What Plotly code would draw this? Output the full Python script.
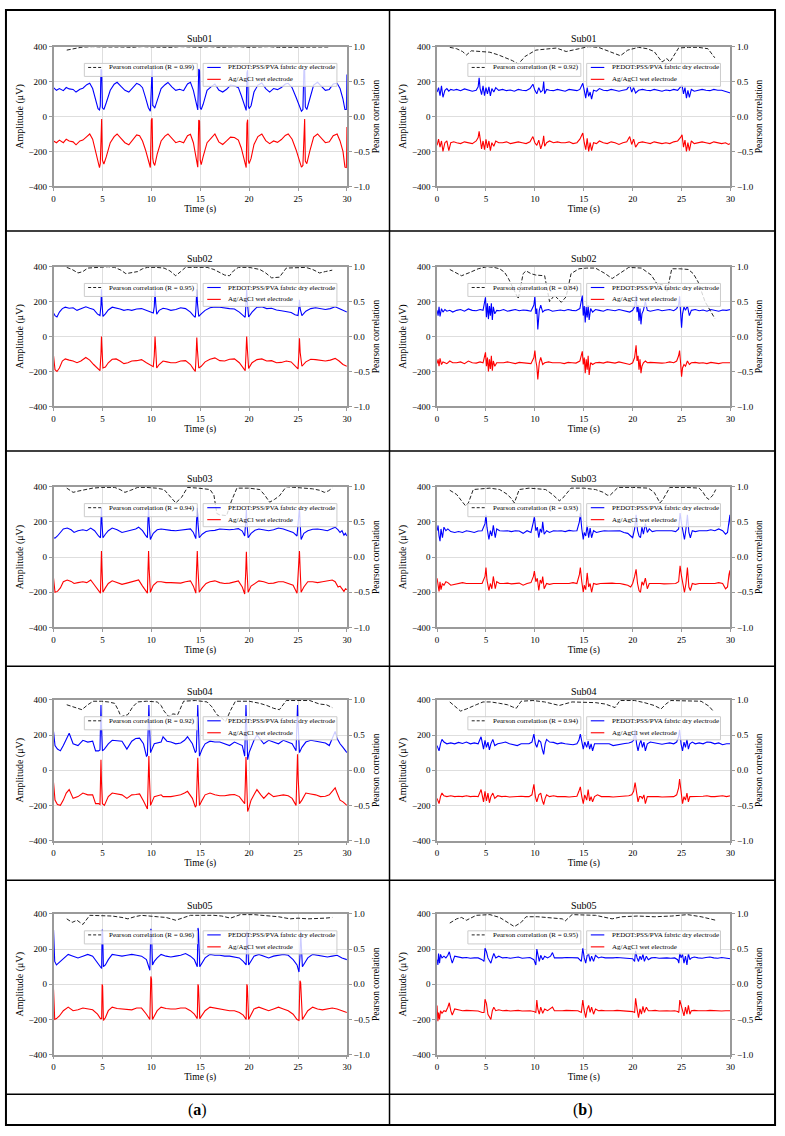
import plotly.graph_objects as go

# ---------------- DATA ----------------
TIME_TICKS = [0, 5, 10, 15, 20, 25, 30]
AMP_TICKS = [-400, -200, 0, 200, 400]
CORR_TICKS = [-1.0, -0.5, 0.0, 0.5, 1.0]
SUBJECTS = ["Sub01", "Sub02", "Sub03", "Sub04", "Sub05"]
R_A = ["0.99", "0.95", "0.94", "0.92", "0.96"]
R_B = ["0.92", "0.84", "0.93", "0.94", "0.95"]
PANEL_LABELS = ["a", "b"]

# ---- Sub01 (a)
T_S01A = [0.0, 0.3, 0.6, 1.0, 1.3, 1.6, 2.0, 2.3, 2.7, 3.0,
          3.4, 3.7, 4.0, 4.3, 4.55, 4.7, 4.78, 4.85, 4.92, 5.0,
          5.15, 5.4, 5.8, 6.2, 6.5, 6.9, 7.3, 7.7, 8.1, 8.5,
          8.8, 9.1, 9.4, 9.7, 9.9, 10.0, 10.08, 10.15, 10.22, 10.35,
          10.6, 11.0, 11.4, 11.7, 12.1, 12.5, 12.9, 13.3, 13.7, 14.0,
          14.3, 14.6, 14.75, 14.85, 14.93, 15.0, 15.1, 15.3, 15.7, 16.1,
          16.5, 16.9, 17.3, 17.7, 18.1, 18.5, 18.9, 19.2, 19.5, 19.7,
          19.78, 19.85, 19.92, 20.0, 20.2, 20.5, 20.9, 21.3, 21.7, 22.1,
          22.5, 22.9, 23.3, 23.7, 24.0, 24.4, 24.8, 25.1, 25.35, 25.5,
          25.6, 25.68, 25.75, 25.9, 26.2, 26.6, 27.0, 27.4, 27.8, 28.2,
          28.6, 29.0, 29.3, 29.6, 29.8, 29.95, 30.0]
BLUE_S01A = [165, 150, 160, 148, 166, 158, 155, 140, 156, 162,
             182, 190, 160, 100, 45, 38, 60, 270, 265, 50,
             40, 80, 150, 185, 196, 172, 150, 140, 165, 190,
             182, 165, 110, 50, 30, 262, 270, 62, 60, 48,
             90, 160, 182, 195, 170, 150, 156, 148, 186, 196,
             150, 60, 38, 272, 262, 50, 40, 70, 150, 170,
             186, 152, 140, 156, 180, 176, 165, 120, 60, 35,
             250, 265, 60, 45, 62, 140, 180, 192, 160, 140,
             160, 154, 166, 186, 190, 165, 110, 60, 30, 40,
             265, 270, 55, 40, 100, 180, 196, 175, 150, 155,
             186, 190, 160, 100, 40, 40, 240]
RED_S01A = [-140, -150, -135, -150, -130, -140, -145, -162, -140, -135,
            -115, -100, -130, -200, -270, -292, -270, -25, -15, -250,
            -272, -230, -150, -115, -100, -125, -150, -162, -135, -105,
            -110, -140, -190, -255, -292, -20, -10, -240, -265, -280,
            -215, -140, -112, -100, -128, -150, -142, -150, -110, -102,
            -150, -240, -290, -20, -25, -250, -275, -230, -150, -125,
            -100, -145, -160, -140, -118, -120, -135, -180, -245, -292,
            -40, -18, -250, -270, -240, -160, -115, -100, -138, -155,
            -140, -148, -132, -108, -100, -130, -190, -240, -290, -280,
            -30, -15, -255, -270, -200, -118, -100, -125, -150, -145,
            -110, -100, -140, -200, -290, -292, -60]
CT_S01A = [1.35, 1.8, 2.3, 2.8, 3.3, 4, 5, 6, 7, 8, 9, 10, 11, 12, 13, 14,
           15, 16, 17, 18, 19, 20, 21, 22, 23, 24, 25, 26, 27, 28.2]
CR_S01A = [0.95, 0.965, 0.98, 0.99, 0.995, 1.0, 0.995, 1.0, 0.995, 0.99,
           1.0, 0.995, 0.99, 0.99, 1.0, 0.995, 0.99, 1.0, 0.99, 0.995,
           1.0, 0.99, 0.995, 1.0, 0.99, 0.99, 1.0, 0.995, 0.99, 0.995]

# ---- Sub01 (b)
T_S01B = [0.0, 0.15, 0.3, 0.45, 0.6, 0.8, 1.0, 1.2, 1.4, 1.7,
          2.0, 2.4, 2.8, 3.2, 3.6, 4.0, 4.2, 4.3, 4.4, 4.55,
          4.7, 4.85, 5.0, 5.15, 5.3, 5.45, 5.6, 5.8, 6.0, 6.3,
          6.7, 7.1, 7.5, 7.9, 8.3, 8.7, 9.1, 9.5, 9.8, 10.0,
          10.2, 10.4, 10.6, 10.8, 10.9, 11.0, 11.2, 11.5, 11.9, 12.3,
          12.7, 13.1, 13.5, 13.9, 14.3, 14.6, 14.8, 14.9, 15.05, 15.2,
          15.35, 15.5, 15.65, 15.8, 16.0, 16.3, 16.6, 17.0, 17.4, 17.8,
          18.2, 18.6, 19.0, 19.4, 19.7, 19.9, 20.1, 20.3, 20.6, 21.0,
          21.4, 21.8, 22.2, 22.6, 23.0, 23.4, 23.8, 24.2, 24.6, 24.9,
          25.05, 25.2, 25.35, 25.5, 25.65, 25.8, 26.0, 26.3, 26.7, 27.1,
          27.5, 27.9, 28.3, 28.7, 29.1, 29.5, 29.8, 30.0]
BLUE_S01B = [140, 165, 120, 175, 110, 150, 160, 145, 155, 150,
             155, 148, 158, 150, 145, 150, 170, 222, 160, 125,
             175, 120, 165, 130, 170, 118, 160, 140, 165, 150,
             155, 148, 152, 145, 155, 150, 148, 160, 185, 150,
             130, 165, 140, 150, 200, 130, 155, 150, 148, 155,
             150, 145, 155, 150, 148, 155, 175, 190, 150, 105,
             165, 115, 140, 100, 150, 145, 160, 150, 148, 155,
             150, 145, 150, 155, 178, 140, 165, 135, 150, 155,
             150, 148, 155, 150, 145, 152, 148, 155, 150, 170,
             180, 130, 165, 105, 150, 110, 155, 145, 150, 155,
             150, 148, 155, 150, 150, 145, 140, 135]
RED_S01B = [-165, -130, -175, -140, -200, -150, -140, -195, -150, -145,
            -150, -155, -145, -150, -155, -140, -120, -85, -130, -185,
            -140, -190, -130, -180, -140, -195, -150, -170, -140, -150,
            -150, -145, -155, -150, -145, -150, -155, -145, -115, -150,
            -165, -135, -185, -150, -110, -170, -150, -140, -150, -145,
            -150, -150, -145, -155, -150, -130, -110, -95, -150, -190,
            -125, -200, -150, -195, -150, -155, -140, -150, -155, -145,
            -150, -160, -150, -145, -115, -160, -130, -175, -150, -145,
            -150, -155, -145, -150, -155, -150, -155, -145, -140, -120,
            -105, -175, -135, -200, -150, -195, -140, -155, -150, -145,
            -150, -155, -145, -150, -155, -150, -160, -155]
CT_S01B = [1.3, 2.0, 2.6, 3.0, 3.5, 4.5, 5.4, 6.3, 7.1, 7.7,
           8.3, 9.0, 10.1, 11.2, 12.2, 13.2, 14.3, 15.5, 16.5, 17.5,
           18.75, 19.5, 20.6, 21.5, 22.2, 23.0, 23.5, 23.8, 24.7, 25.7,
           26.7, 27.7, 28.4]
CR_S01B = [0.99, 0.97, 0.93, 0.88, 0.94, 0.93, 0.92, 0.88, 0.83, 0.80,
           0.75, 0.86, 0.95, 0.97, 0.98, 0.93, 0.96, 1.0, 0.99, 0.94,
           0.87, 0.95, 0.99, 0.97, 0.93, 0.78, 0.83, 0.78, 0.98, 0.99,
           0.99, 0.97, 0.84]

# ---- Sub02 (a)
T_S02A = [0.0, 0.15, 0.35, 0.6, 0.9, 1.2, 1.6, 2.0, 2.4, 2.8,
          3.3, 3.7, 4.1, 4.5, 4.75, 4.85, 4.9, 4.95, 5.05, 5.3,
          5.6, 6.0, 6.4, 6.8, 7.2, 7.6, 8.0, 8.5, 9.0, 9.5,
          9.9, 10.2, 10.3, 10.38, 10.45, 10.55, 10.8, 11.2, 11.6, 12.0,
          12.5, 13.0, 13.5, 14.0, 14.3, 14.5, 14.58, 14.65, 14.72, 14.85,
          15.1, 15.5, 16.0, 16.5, 17.0, 17.5, 18.0, 18.5, 19.0, 19.4,
          19.6, 19.68, 19.75, 19.82, 19.95, 20.3, 20.8, 21.3, 21.8, 22.3,
          22.8, 23.3, 23.8, 24.3, 24.7, 25.0, 25.08, 25.15, 25.22, 25.4,
          25.8, 26.3, 26.8, 27.3, 27.8, 28.3, 28.8, 29.2, 29.6, 30.0]
BLUE_S02A = [135, 120, 112, 140, 160, 168, 162, 165, 150, 158,
             170, 162, 155, 128, 120, 180, 270, 200, 115, 130,
             152, 168, 165, 158, 150, 155, 150, 158, 160, 148,
             140, 135, 170, 265, 190, 128, 150, 162, 158, 150,
             155, 165, 160, 140, 120, 110, 180, 270, 190, 115,
             130, 150, 165, 170, 168, 162, 160, 158, 140, 120,
             110, 190, 270, 200, 112, 140, 168, 170, 160, 162,
             152, 148, 142, 138, 125, 120, 160, 210, 160, 120,
             145, 160, 165, 160, 155, 160, 170, 160, 148, 140]
RED_S02A = [-110, -190, -200, -180, -140, -128, -135, -140, -150, -140,
            -120, -135, -160, -180, -195, -100, 0, -60, -180, -175,
            -150, -130, -128, -140, -155, -150, -140, -138, -132, -150,
            -165, -172, -110, 0, -70, -180, -160, -140, -145, -150,
            -150, -140, -138, -160, -185, -200, -110, -5, -80, -180,
            -170, -145, -130, -122, -138, -140, -130, -128, -150, -180,
            -195, -100, 0, -70, -182, -150, -132, -128, -140, -138,
            -150, -148, -140, -145, -165, -185, -110, -10, -90, -170,
            -145, -130, -132, -138, -140, -135, -125, -140, -160, -170]
CT_S02A = [1.35, 1.9, 2.5, 3.0, 3.5, 4.2, 4.9, 5.6, 6.25, 6.9,
           7.4, 8.0, 8.6, 9.1, 9.6, 10.5, 11.3, 11.9, 12.5, 13.0,
           13.5, 14.5, 15.7, 16.4, 17.0, 17.5, 18.0, 18.4, 18.9, 20.0,
           21.1, 21.7, 22.3, 23.1, 23.8, 24.8, 25.8, 26.5, 27.2, 27.8,
           28.5]
CR_S02A = [0.99, 0.96, 0.91, 0.93, 0.98, 0.99, 1.0, 1.0, 0.99, 0.95,
           0.90, 0.91, 0.93, 0.97, 0.99, 0.99, 0.98, 0.94, 0.87, 0.93,
           0.99, 0.99, 0.99, 0.96, 0.91, 0.88, 0.87, 0.94, 0.99, 0.99,
           0.96, 0.91, 0.84, 0.85, 0.98, 0.99, 0.99, 0.96, 0.91, 0.93,
           0.95]

# ---- Sub02 (b)
T_S02B = [0.0, 0.1, 0.2, 0.3, 0.45, 0.6, 0.8, 1.0, 1.3, 1.6,
          2.0, 2.4, 2.8, 3.2, 3.6, 4.0, 4.4, 4.7, 4.95, 5.05,
          5.15, 5.25, 5.35, 5.45, 5.55, 5.65, 5.75, 5.9, 6.1, 6.4,
          6.8, 7.2, 7.6, 8.0, 8.4, 8.8, 9.2, 9.6, 9.9, 10.0,
          10.1, 10.2, 10.3, 10.45, 10.6, 10.8, 11.0, 11.4, 11.8, 12.2,
          12.6, 13.0, 13.4, 13.8, 14.2, 14.6, 14.85, 14.95, 15.05, 15.15,
          15.25, 15.35, 15.45, 15.55, 15.7, 15.9, 16.2, 16.6, 17.0, 17.4,
          17.8, 18.2, 18.6, 19.0, 19.4, 19.7, 20.0, 20.2, 20.35, 20.45,
          20.55, 20.65, 20.75, 20.85, 20.95, 21.1, 21.3, 21.5, 21.8, 22.2,
          22.6, 23.0, 23.4, 23.8, 24.2, 24.5, 24.7, 24.8, 24.9, 25.0,
          25.1, 25.25, 25.4, 25.6, 25.8, 26.0, 26.4, 26.8, 27.2, 27.6,
          28.0, 28.4, 28.8, 29.2, 29.6, 30.0]
BLUE_S02B = [150, 120, 170, 115, 160, 140, 155, 145, 150, 140,
             150, 155, 145, 158, 150, 148, 155, 150, 225, 110,
             190, 100, 175, 120, 190, 95, 170, 130, 150, 148,
             155, 145, 150, 155, 148, 152, 150, 145, 180, 230,
             130, 160, 40, 150, 180, 140, 150, 155, 145, 150,
             152, 148, 155, 150, 148, 160, 235, 120, 175, 80,
             170, 110, 180, 95, 160, 140, 155, 150, 145, 155,
             150, 148, 155, 150, 145, 140, 150, 170, 235, 140,
             180, 90, 160, 70, 130, 150, 200, 150, 145, 150,
             155, 148, 150, 155, 148, 160, 180, 230, 140, 50,
             130, 170, 150, 175, 120, 150, 155, 148, 152, 145,
             155, 150, 145, 152, 150, 155]
RED_S02B = [-155, -130, -170, -125, -160, -145, -150, -155, -140, -150,
            -150, -145, -155, -140, -150, -152, -145, -150, -90, -170,
            -120, -200, -130, -185, -110, -195, -140, -170, -150, -150,
            -150, -145, -150, -155, -148, -150, -150, -155, -120, -80,
            -140, -170, -245, -150, -120, -160, -150, -145, -150, -148,
            -150, -155, -148, -150, -152, -140, -85, -160, -120, -210,
            -130, -190, -110, -220, -150, -160, -150, -148, -152, -145,
            -150, -152, -145, -150, -155, -160, -150, -120, -50, -140,
            -110, -190, -130, -210, -170, -150, -140, -150, -148, -150,
            -148, -152, -150, -145, -150, -140, -110, -80, -150, -230,
            -180, -160, -170, -140, -160, -150, -148, -152, -150, -155,
            -148, -150, -155, -150, -148, -150]
CT_S02B = [1.3, 1.9, 2.5, 3.4, 4.2, 5.1, 5.8, 6.4, 6.9, 7.3,
           7.8, 8.3, 8.8, 9.1, 9.6, 10.1, 11.0, 11.5, 12.0, 12.7,
           13.2, 13.7, 14.5, 15.3, 16.2, 17.2, 17.9, 18.6, 19.6, 20.9,
           21.9, 22.6, 23.0, 23.5, 24.0, 24.8, 25.7, 26.2, 26.7, 27.4,
           27.9, 28.4]
CR_S02B = [0.96, 0.92, 0.87, 0.92, 0.97, 1.0, 0.99, 0.97, 0.92, 0.83,
           0.68, 0.54, 0.9, 0.94, 0.9, 0.88, 0.87, 0.5, 0.59, 0.49,
           0.57, 0.9, 0.97, 0.98, 0.98, 0.9, 0.83, 0.9, 0.99, 0.98,
           0.88, 0.73, 0.75, 0.64, 0.97, 0.97, 0.96, 0.9, 0.78, 0.5,
           0.38, 0.26]

# ---- Sub03 (a)
T_S03A = [0.0, 0.15, 0.4, 0.7, 1.0, 1.4, 1.8, 2.1, 2.5, 3.0,
          3.4, 3.8, 4.2, 4.6, 4.8, 4.85, 4.9, 4.95, 5.05, 5.3,
          5.6, 6.0, 6.5, 7.0, 7.5, 8.0, 8.4, 8.7, 9.1, 9.4,
          9.6, 9.65, 9.72, 9.78, 9.9, 10.2, 10.6, 11.0, 11.5, 12.0,
          12.5, 13.0, 13.5, 14.0, 14.3, 14.55, 14.62, 14.7, 14.77, 14.9,
          15.2, 15.6, 16.0, 16.5, 17.0, 17.5, 18.0, 18.5, 18.9, 19.3,
          19.55, 19.65, 19.72, 19.78, 19.9, 20.2, 20.6, 21.0, 21.5, 22.0,
          22.5, 23.0, 23.5, 24.0, 24.5, 24.9, 25.05, 25.15, 25.22, 25.32,
          25.6, 26.0, 26.5, 27.0, 27.5, 28.0, 28.5, 28.8, 29.1, 29.3,
          29.5, 29.7, 29.85, 30.0]
BLUE_S03A = [110, 108, 120, 140, 160, 165, 155, 140, 150, 155,
             150, 165, 150, 120, 110, 200, 280, 200, 110, 130,
             150, 165, 155, 140, 148, 152, 160, 170, 150, 125,
             110, 200, 280, 190, 100, 135, 155, 160, 155, 152,
             150, 152, 155, 160, 140, 105, 200, 280, 190, 110,
             130, 145, 150, 152, 160, 158, 155, 158, 162, 148,
             120, 200, 270, 190, 110, 135, 152, 160, 155, 150,
             155, 165, 160, 150, 140, 120, 200, 280, 190, 100,
             135, 150, 158, 160, 155, 150, 162, 170, 155, 140,
             150, 125, 135, 120]
RED_S03A = [-120, -200, -195, -175, -140, -130, -138, -150, -145, -140,
            -145, -130, -160, -190, -205, -80, 35, -60, -200, -175,
            -150, -135, -145, -155, -148, -140, -135, -130, -165, -190,
            -205, -90, 35, -70, -200, -160, -140, -140, -145, -145,
            -145, -148, -140, -135, -165, -205, -80, 35, -70, -200,
            -175, -150, -140, -135, -145, -150, -148, -140, -135, -170,
            -210, -90, 30, -70, -200, -165, -148, -135, -140, -150,
            -148, -140, -140, -150, -160, -205, -80, 35, -70, -200,
            -170, -140, -140, -145, -140, -135, -130, -140, -170, -165,
            -180, -195, -180, -185]
CT_S03A = [1.35, 2.0, 2.6, 3.2, 4.0, 4.9, 5.6, 6.25, 6.8, 7.3,
           7.9, 8.6, 9.5, 10.5, 11.3, 11.9, 12.5, 13.1, 13.7, 14.8,
           16.0, 16.4, 16.7, 17.0, 17.7, 18.2, 18.75, 20.0, 21.1, 21.6,
           22.1, 22.6, 23.1, 23.8, 25.0, 26.5, 27.2, 27.7, 28.1, 28.5]
CR_S03A = [0.98, 0.92, 0.94, 0.96, 0.98, 0.99, 0.99, 0.99, 0.96, 0.92,
           0.95, 0.99, 0.99, 0.98, 0.96, 0.87, 0.77, 0.85, 0.99, 0.98,
           0.96, 0.88, 0.62, 0.6, 0.59, 0.8, 0.98, 0.98, 0.96, 0.88,
           0.78, 0.82, 0.87, 1.0, 0.99, 0.97, 0.95, 0.92, 0.94, 0.98]

# ---- Sub03 (b)
T_S03B = [0.0, 0.1, 0.2, 0.3, 0.4, 0.55, 0.7, 0.9, 1.1, 1.4,
          1.8, 2.2, 2.6, 3.0, 3.4, 3.8, 4.2, 4.6, 4.9, 5.0,
          5.1, 5.2, 5.3, 5.45, 5.6, 5.75, 5.85, 5.95, 6.1, 6.4,
          6.8, 7.2, 7.6, 8.0, 8.4, 8.8, 9.2, 9.6, 9.85, 9.95,
          10.1, 10.25, 10.4, 10.55, 10.7, 10.8, 10.95, 11.2, 11.5, 11.9,
          12.3, 12.7, 13.1, 13.5, 13.9, 14.3, 14.55, 14.65, 14.8, 14.95,
          15.05, 15.2, 15.35, 15.5, 15.65, 15.8, 16.0, 16.3, 16.7, 17.1,
          17.5, 17.9, 18.3, 18.7, 19.1, 19.5, 19.8, 20.0, 20.2, 20.35,
          20.5, 20.65, 20.8, 20.95, 21.1, 21.3, 21.5, 21.7, 22.0, 22.4,
          22.8, 23.2, 23.6, 24.0, 24.4, 24.7, 24.85, 25.0, 25.15, 25.3,
          25.45, 25.6, 25.75, 25.9, 26.1, 26.4, 26.8, 27.2, 27.6, 28.0,
          28.4, 28.8, 29.2, 29.5, 29.7, 29.85, 29.95, 30.0]
BLUE_S03B = [150, 180, 120, 90, 160, 110, 170, 150, 160, 145,
             140, 145, 140, 150, 145, 140, 148, 150, 190, 240,
             170, 140, 100, 150, 120, 180, 130, 110, 160, 150,
             148, 150, 145, 150, 148, 135, 150, 140, 200, 230,
             150, 170, 110, 160, 140, 200, 130, 150, 140, 150,
             148, 150, 145, 152, 148, 150, 200, 250, 160, 100,
             140, 120, 180, 110, 165, 110, 150, 140, 145, 150,
             148, 150, 148, 150, 140, 135, 120, 110, 160, 240,
             150, 120, 110, 170, 130, 190, 140, 160, 145, 150,
             150, 148, 150, 150, 145, 160, 250, 190, 140, 100,
             160, 240, 140, 110, 150, 145, 150, 148, 150, 155,
             150, 160, 150, 130, 140, 200, 240, 180]
RED_S03B = [-120, -150, -195, -140, -185, -150, -160, -140, -145, -160,
            -155, -150, -145, -150, -148, -150, -150, -150, -110, -60,
            -130, -160, -190, -150, -180, -110, -160, -180, -140, -150,
            -150, -148, -152, -150, -148, -160, -150, -145, -110, -80,
            -140, -120, -190, -130, -150, -110, -180, -150, -155, -150,
            -150, -148, -152, -150, -145, -150, -100, -60, -140, -200,
            -160, -185, -90, -170, -150, -200, -150, -155, -150, -148,
            -150, -148, -150, -150, -155, -160, -170, -150, -110, -70,
            -150, -190, -200, -140, -160, -120, -180, -150, -150, -148,
            -150, -152, -150, -148, -150, -140, -50, -110, -160, -200,
            -150, -60, -170, -190, -150, -155, -150, -150, -152, -148,
            -150, -145, -150, -180, -170, -100, -75, -130]
CT_S03B = [1.3, 2.0, 2.5, 2.9, 3.2, 3.7, 4.5, 5.4, 6.4, 6.8,
           7.2, 7.6, 7.9, 8.4, 9.4, 10.3, 11.1, 11.8, 12.5, 12.8,
           13.2, 13.7, 15.0, 16.2, 17.0, 17.4, 17.7, 18.1, 18.5, 20.0,
           21.6, 22.2, 22.8, 23.1, 23.4, 23.8, 25.5, 26.8, 27.2, 27.5,
           27.8, 28.2, 28.5]
CR_S03B = [0.95, 0.89, 0.8, 0.73, 0.77, 0.96, 0.97, 0.98, 0.96, 0.93,
           0.89, 0.83, 0.77, 0.96, 0.98, 0.97, 0.96, 0.89, 0.8, 0.83,
           0.9, 0.98, 0.98, 0.96, 0.92, 0.88, 0.88, 0.94, 0.99, 0.99,
           0.98, 0.92, 0.77, 0.82, 0.9, 0.99, 0.99, 0.98, 0.92, 0.85,
           0.82, 0.88, 0.96]

# ---- Sub04 (a)
T_S04A = [0.0, 0.15, 0.4, 0.7, 1.0, 1.3, 1.6, 2.0, 2.5, 3.0,
          3.5, 4.0, 4.3, 4.6, 4.75, 4.8, 4.85, 4.9, 5.0, 5.2,
          5.6, 6.0, 6.5, 7.0, 7.5, 8.0, 8.4, 8.8, 9.2, 9.5,
          9.6, 9.68, 9.75, 9.82, 9.92, 10.3, 10.7, 11.0, 11.2, 11.6,
          12.0, 12.5, 13.0, 13.4, 13.7, 14.2, 14.5, 14.6, 14.68, 14.75,
          14.82, 14.92, 15.2, 15.5, 16.0, 16.5, 17.0, 17.5, 18.0, 18.5,
          19.0, 19.3, 19.55, 19.62, 19.68, 19.75, 19.85, 20.0, 20.2, 20.5,
          20.8, 21.2, 21.5, 22.0, 22.5, 23.0, 23.5, 24.0, 24.4, 24.8,
          24.88, 24.95, 25.02, 25.15, 25.4, 25.8, 26.3, 26.8, 27.3, 27.8,
          28.2, 28.6, 28.8, 29.0, 29.3, 29.6, 30.0]
BLUE_S04A = [220, 140, 120, 110, 140, 180, 210, 150, 140, 170,
             160, 165, 110, 110, 115, 250, 370, 250, 110, 120,
             150, 170, 168, 165, 120, 165, 180, 182, 150, 80,
             85, 250, 370, 250, 100, 150, 155, 160, 190, 165,
             160, 150, 155, 170, 190, 150, 100, 110, 250, 370,
             250, 80, 120, 150, 165, 160, 160, 150, 140, 160,
             150, 140, 80, 250, 370, 250, 60, 100, 130, 170,
             200, 170, 150, 170, 160, 150, 170, 160, 150, 110,
             250, 370, 250, 100, 130, 160, 170, 165, 160, 155,
             140, 200, 220, 180, 150, 130, 100]
RED_S04A = [-70, -170, -195, -200, -170, -130, -110, -160, -150, -130,
            -140, -140, -190, -190, -195, -60, 60, -60, -190, -200,
            -150, -130, -135, -140, -160, -140, -138, -135, -175, -215,
            -220, -60, 80, -60, -200, -150, -145, -140, -150, -150,
            -150, -145, -140, -130, -120, -160, -210, -200, -60, 70,
            -60, -200, -170, -140, -130, -140, -145, -145, -140, -138,
            -150, -170, -190, -60, 75, -60, -235, -210, -170, -140,
            -110, -140, -160, -130, -150, -145, -140, -145, -160, -200,
            -50, 90, -50, -190, -170, -130, -135, -140, -150, -148,
            -140, -110, -100, -130, -170, -180, -200]
CT_S04A = [1.35, 2.0, 2.4, 2.9, 3.5, 4.05, 4.9, 5.6, 6.25, 6.6,
           6.9, 7.6, 8.1, 8.6, 9.5, 10.6, 11.0, 11.3, 11.8, 12.2,
           12.7, 13.3, 14.5, 15.7, 16.2, 16.7, 17.2, 17.6, 18.1, 18.6,
           20.0, 21.1, 21.8, 22.5, 23.1, 23.8, 25.0, 26.2, 27.2, 27.9,
           28.5]
CR_S04A = [0.93, 0.9, 0.88, 0.86, 0.93, 0.98, 0.98, 0.97, 0.95, 0.86,
           0.76, 0.79, 0.9, 0.97, 0.98, 0.97, 0.92, 0.84, 0.76, 0.8,
           0.79, 0.98, 0.99, 0.97, 0.9, 0.79, 0.74, 0.69, 0.85, 0.98,
           0.98, 0.95, 0.92, 0.88, 0.86, 0.99, 0.99, 0.99, 0.94, 0.93,
           0.89]

# ---- Sub04 (b)
T_S04B = [0.0, 0.1, 0.2, 0.35, 0.5, 0.7, 1.0, 1.4, 1.8, 2.2,
          2.6, 3.0, 3.4, 3.8, 4.2, 4.5, 4.6, 4.75, 4.9, 5.05,
          5.2, 5.35, 5.5, 5.7, 5.9, 6.2, 6.6, 7.0, 7.4, 7.8,
          8.2, 8.6, 9.0, 9.4, 9.7, 9.9, 10.05, 10.2, 10.4, 10.6,
          10.75, 10.9, 11.05, 11.2, 11.5, 11.9, 12.3, 12.7, 13.1, 13.5,
          13.9, 14.3, 14.5, 14.65, 14.8, 14.95, 15.1, 15.3, 15.45, 15.6,
          15.75, 15.9, 16.1, 16.4, 16.8, 17.2, 17.6, 18.0, 18.4, 18.8,
          19.2, 19.6, 19.9, 20.1, 20.25, 20.4, 20.55, 20.7, 20.85, 21.0,
          21.15, 21.3, 21.5, 21.8, 22.2, 22.6, 23.0, 23.4, 23.8, 24.2,
          24.5, 24.7, 24.8, 24.95, 25.1, 25.25, 25.4, 25.55, 25.7, 25.85,
          26.1, 26.4, 26.8, 27.2, 27.6, 28.0, 28.4, 28.8, 29.2, 29.6,
          30.0]
BLUE_S04B = [140, 120, 110, 150, 175, 160, 150, 155, 150, 158,
             152, 160, 150, 155, 150, 190, 160, 120, 170, 130,
             160, 115, 150, 175, 140, 150, 155, 160, 150, 145,
             140, 150, 148, 150, 160, 205, 150, 130, 170, 160,
             120, 90, 150, 175, 160, 158, 150, 155, 150, 148,
             145, 150, 170, 205, 150, 120, 160, 130, 165, 120,
             150, 110, 150, 150, 148, 152, 150, 140, 145, 150,
             152, 155, 160, 170, 230, 150, 110, 150, 170, 130,
             160, 110, 150, 160, 155, 150, 148, 152, 155, 150,
             160, 190, 230, 150, 110, 160, 130, 175, 120, 150,
             160, 150, 155, 150, 160, 158, 150, 155, 145, 150,
             150]
RED_S04B = [-160, -180, -190, -150, -130, -145, -150, -145, -150, -148,
            -150, -145, -150, -148, -150, -110, -150, -180, -120, -175,
            -130, -185, -150, -130, -160, -145, -150, -148, -152, -150,
            -150, -148, -150, -150, -140, -80, -150, -180, -140, -130,
            -170, -195, -160, -140, -150, -145, -150, -148, -150, -152,
            -150, -148, -120, -95, -150, -190, -140, -170, -110, -175,
            -150, -180, -150, -140, -150, -148, -150, -152, -150, -148,
            -150, -145, -140, -120, -70, -140, -180, -150, -150, -160,
            -140, -190, -150, -150, -148, -150, -152, -150, -148, -150,
            -140, -100, -50, -140, -190, -150, -170, -130, -180, -150,
            -150, -148, -150, -148, -145, -150, -150, -148, -145, -150,
            -145]
CT_S04B = [1.3, 1.9, 2.4, 3.0, 3.4, 4.0, 4.7, 5.5, 6.4, 7.2,
           7.7, 8.1, 8.6, 9.8, 11.0, 12.5, 13.8, 15.0, 16.2, 17.2,
           18.2, 18.7, 20.2, 21.2, 22.2, 22.9, 23.4, 23.9, 25.6, 27.0,
           27.8, 28.3]
CR_S04B = [0.97, 0.9, 0.84, 0.87, 0.89, 0.93, 0.97, 0.97, 0.95, 0.93,
           0.9, 0.88, 0.98, 0.99, 0.97, 0.92, 0.97, 0.97, 0.96, 0.94,
           0.89, 0.99, 0.99, 0.96, 0.92, 0.87, 0.94, 0.99, 0.99, 0.98,
           0.91, 0.83]

# ---- Sub05 (a)
T_S05A = [0.0, 0.05, 0.12, 0.3, 0.6, 1.0, 1.5, 2.0, 2.5, 3.0,
          3.5, 4.0, 4.5, 4.8, 4.92, 4.97, 5.02, 5.1, 5.3, 5.6,
          6.0, 6.5, 7.0, 7.5, 8.0, 8.5, 9.0, 9.5, 9.85, 9.95,
          10.02, 10.12, 10.3, 10.6, 11.0, 11.5, 12.0, 12.5, 13.0, 13.5,
          14.0, 14.4, 14.7, 14.77, 14.82, 14.95, 15.2, 15.5, 16.0, 16.5,
          17.0, 17.5, 18.0, 18.5, 19.0, 19.4, 19.7, 19.77, 19.82, 19.95,
          20.2, 20.5, 21.0, 21.5, 22.0, 22.5, 23.0, 23.5, 24.0, 24.5,
          24.9, 25.1, 25.2, 25.27, 25.45, 25.7, 26.0, 26.5, 27.0, 27.5,
          28.0, 28.5, 29.0, 29.5, 30.0]
BLUE_S05A = [310, 200, 130, 110, 125, 150, 170, 160, 150, 160,
             170, 160, 120, 95, 90, 310, 300, 100, 110, 140,
             170, 165, 160, 165, 170, 165, 160, 140, 80, 315,
             300, 110, 130, 150, 170, 160, 155, 160, 165, 175,
             160, 140, 100, 320, 310, 100, 120, 150, 170, 165,
             165, 160, 160, 155, 150, 130, 110, 300, 290, 110,
             130, 160, 170, 160, 150, 160, 165, 170, 165, 140,
             110, 70, 160, 300, 100, 120, 150, 170, 165, 160,
             155, 160, 165, 150, 140]
RED_S05A = [-30, -120, -200, -195, -180, -150, -130, -150, -145, -135,
            -140, -145, -170, -195, -195, 0, -10, -205, -190, -150,
            -130, -138, -140, -142, -145, -135, -135, -170, -200, 45,
            30, -200, -180, -150, -130, -138, -140, -140, -135, -135,
            -150, -170, -195, 0, -10, -195, -175, -150, -130, -135,
            -140, -145, -150, -150, -160, -175, -200, 0, -10, -200,
            -175, -140, -130, -140, -150, -140, -130, -140, -150, -170,
            -200, -205, 20, 10, -200, -180, -150, -130, -140, -145,
            -140, -135, -140, -150, -160]
CT_S05A = [1.35, 1.9, 2.4, 3.0, 3.7, 4.9, 6.0, 7.0, 7.6, 8.3,
           9.0, 10.6, 11.5, 12.5, 13.3, 14.0, 16.4, 17.2, 18.1, 19.1,
           20.5, 21.8, 23.0, 24.2, 25.0, 26.0, 27.2, 27.8, 28.5]
CR_S05A = [0.93, 0.88, 0.91, 0.85, 0.98, 0.98, 0.97, 0.95, 0.93, 0.96,
           0.98, 0.96, 0.95, 0.91, 0.95, 0.98, 0.98, 0.97, 0.94, 0.99,
           0.99, 0.98, 0.96, 0.93, 0.94, 0.93, 0.93, 0.94, 0.95]

# ---- Sub05 (b)
T_S05B = [0.0, 0.08, 0.15, 0.25, 0.35, 0.5, 0.7, 0.9, 1.1, 1.25,
          1.4, 1.55, 1.8, 2.2, 2.6, 3.0, 3.4, 3.8, 4.2, 4.6,
          4.8, 4.9, 5.05, 5.2, 5.35, 5.5, 5.65, 5.8, 6.0, 6.3,
          6.7, 7.1, 7.5, 7.9, 8.3, 8.7, 9.1, 9.5, 9.9, 10.1,
          10.2, 10.3, 10.45, 10.6, 10.8, 11.0, 11.3, 11.6, 11.8, 12.0,
          12.4, 12.8, 13.2, 13.6, 14.0, 14.4, 14.75, 14.9, 15.05, 15.2,
          15.35, 15.5, 15.65, 15.8, 16.0, 16.2, 16.5, 16.8, 17.2, 17.6,
          18.0, 18.4, 18.8, 19.2, 19.6, 20.0, 20.2, 20.3, 20.45, 20.6,
          20.75, 20.9, 21.05, 21.2, 21.4, 21.6, 21.9, 22.3, 22.7, 23.1,
          23.5, 23.9, 24.3, 24.6, 24.72, 24.82, 24.95, 25.1, 25.25, 25.4,
          25.55, 25.7, 25.85, 26.0, 26.3, 26.7, 27.1, 27.5, 27.9, 28.3,
          28.7, 29.1, 29.5, 29.8, 30.0]
BLUE_S05B = [140, 110, 175, 120, 170, 150, 160, 150, 165, 185,
             150, 120, 160, 155, 150, 152, 148, 150, 150, 140,
             130, 205, 185, 150, 130, 120, 150, 175, 150, 160,
             150, 152, 148, 150, 155, 148, 150, 152, 140, 110,
             200, 160, 130, 165, 140, 160, 150, 160, 180, 150,
             148, 150, 152, 150, 148, 150, 130, 205, 150, 120,
             165, 170, 130, 160, 130, 165, 150, 155, 150, 148,
             150, 152, 150, 148, 150, 145, 130, 190, 150, 130,
             160, 140, 170, 130, 160, 140, 150, 152, 148, 150,
             150, 148, 150, 140, 120, 180, 150, 170, 120, 160,
             110, 175, 140, 150, 155, 150, 148, 152, 155, 150,
             148, 152, 150, 145, 145]
RED_S05B = [-120, -210, -160, -200, -150, -165, -150, -155, -130, -105,
            -150, -175, -140, -145, -150, -148, -150, -150, -152, -160,
            -160, -85, -110, -170, -185, -200, -150, -130, -150, -145,
            -150, -148, -152, -150, -148, -152, -150, -150, -155, -160,
            -90, -140, -170, -130, -165, -140, -150, -140, -130, -150,
            -152, -150, -148, -150, -152, -150, -160, -90, -150, -190,
            -140, -120, -160, -130, -170, -140, -150, -148, -150, -152,
            -150, -148, -150, -152, -150, -155, -160, -80, -140, -190,
            -140, -170, -125, -160, -130, -150, -150, -148, -152, -150,
            -150, -152, -150, -155, -160, -90, -120, -140, -180, -130,
            -170, -120, -170, -150, -148, -150, -152, -150, -148, -150,
            -150, -152, -150, -148, -150]
CT_S05B = [1.3, 2.0, 2.5, 3.0, 4.0, 5.4, 6.4, 7.2, 7.9, 8.6,
           9.1, 10.3, 11.5, 12.8, 13.1, 13.8, 16.2, 17.9, 18.9, 20.5,
           22.2, 24.0, 25.6, 27.0, 28.5]
CR_S05B = [0.87, 0.93, 0.95, 0.91, 0.98, 0.99, 0.95, 0.88, 0.82, 0.88,
           0.96, 0.96, 0.95, 0.93, 0.9, 0.99, 0.98, 0.93, 0.96, 0.97,
           0.96, 0.97, 0.99, 0.96, 0.91]

# ---------------- LAYOUT ----------------
W, H = 785, 1136
FONT = "Liberation Serif, Times New Roman, serif"
COLS = [(52, 348), (439, 735)]
ROWS = [(42, 183), (264, 405), (486, 628), (701, 843), (917, 1059)]
TABLE_H = [228, 450, 667, 883, 1099]

PANELS = [
    (0, 0, T_S01A, BLUE_S01A, RED_S01A, CT_S01A, CR_S01A, R_A[0]),
    (0, 1, T_S01B, BLUE_S01B, RED_S01B, CT_S01B, CR_S01B, R_B[0]),
    (1, 0, T_S02A, BLUE_S02A, RED_S02A, CT_S02A, CR_S02A, R_A[1]),
    (1, 1, T_S02B, BLUE_S02B, RED_S02B, CT_S02B, CR_S02B, R_B[1]),
    (2, 0, T_S03A, BLUE_S03A, RED_S03A, CT_S03A, CR_S03A, R_A[2]),
    (2, 1, T_S03B, BLUE_S03B, RED_S03B, CT_S03B, CR_S03B, R_B[2]),
    (3, 0, T_S04A, BLUE_S04A, RED_S04A, CT_S04A, CR_S04A, R_A[3]),
    (3, 1, T_S04B, BLUE_S04B, RED_S04B, CT_S04B, CR_S04B, R_B[3]),
    (4, 0, T_S05A, BLUE_S05A, RED_S05A, CT_S05A, CR_S05A, R_A[4]),
    (4, 1, T_S05B, BLUE_S05B, RED_S05B, CT_S05B, CR_S05B, R_B[4]),
]

def px(x):
    return x / W

def py(y):
    return 1 - y / H

fig = go.Figure()
layout = {}
shapes = []
annos = []

AXCOL = "#9a9a9a"
GRID = "#dedede"

for k, (r, c, T, B, R, CT, CR, rval) in enumerate(PANELS):
    n = k + 1
    xa = "x" if n == 1 else f"x{n}"
    yl_i, yr_i = 2 * n - 1, 2 * n
    yl = "y" if yl_i == 1 else f"y{yl_i}"
    yr = f"y{yr_i}"
    x0, x1 = COLS[c]
    top, bot = ROWS[r]

    fig.add_trace(go.Scatter(x=T, y=B, mode="lines", line=dict(color="#0000ff", width=1.1),
                             xaxis=xa, yaxis=yl, showlegend=False, hoverinfo="skip"))
    fig.add_trace(go.Scatter(x=T, y=R, mode="lines", line=dict(color="#ff0000", width=1.1),
                             xaxis=xa, yaxis=yl, showlegend=False, hoverinfo="skip"))
    fig.add_trace(go.Scatter(x=CT, y=CR, mode="lines",
                             line=dict(color="#222222", width=1, dash="4px,2px"),
                             xaxis=xa, yaxis=yr, showlegend=False, hoverinfo="skip"))

    tick_font = dict(family=FONT, size=9, color="black")
    layout["xaxis" if n == 1 else f"xaxis{n}"] = dict(
        domain=[px(x0), px(x1)], anchor=yl, range=[0, 30], tickvals=TIME_TICKS,
        showgrid=True, gridcolor=GRID, gridwidth=1, zeroline=False,
        showline=True, linecolor=AXCOL, linewidth=1.5, mirror=True,
        ticks="outside", ticklen=3, tickcolor=AXCOL, tickfont=tick_font,
        title=dict(text="Time (s)", font=dict(family=FONT, size=9.5, color="black"), standoff=2),
    )
    layout["yaxis" if yl_i == 1 else f"yaxis{yl_i}"] = dict(
        domain=[py(bot), py(top)], anchor=xa, range=[-400, 400], tickvals=AMP_TICKS,
        showgrid=True, gridcolor=GRID, gridwidth=1, zeroline=False,
        showline=True, linecolor=AXCOL, linewidth=1.5,
        ticks="outside", ticklen=3, tickcolor=AXCOL, tickfont=tick_font,
        title=dict(text="Amplitude (μV)", font=dict(family=FONT, size=10, color="black"), standoff=3),
    )
    layout[f"yaxis{yr_i}"] = dict(
        domain=[py(bot), py(top)], anchor=xa, overlaying=yl, side="right",
        range=[-1, 1], tickvals=CORR_TICKS, tickformat=".1f",
        showgrid=False, zeroline=False,
        showline=True, linecolor=AXCOL, linewidth=1.5,
        ticks="outside", ticklen=3, tickcolor=AXCOL, tickfont=tick_font,
        title=dict(text="Pearson correlation", font=dict(family=FONT, size=9.5, color="black"), standoff=3),
    )

    # subplot title
    annos.append(dict(text=SUBJECTS[r], xref="paper", yref="paper",
                      x=px((x0 + x1) / 2), y=py(top - 1), xanchor="center", yanchor="bottom",
                      showarrow=False, font=dict(family=FONT, size=10, color="black")))

    # legends (domain coords of the subplot)
    xd, yd = f"{xa} domain", f"{yl} domain"
    shapes.append(dict(type="rect", xref=xd, yref=yd, x0=0.105, x1=0.49, y0=0.787, y1=0.88,
                       line=dict(color="#cccccc", width=1), fillcolor="rgba(255,255,255,0.8)", layer="above"))
    shapes.append(dict(type="rect", xref=xd, yref=yd, x0=0.51, x1=0.966, y0=0.716, y1=0.88,
                       line=dict(color="#cccccc", width=1), fillcolor="rgba(255,255,255,0.8)", layer="above"))
    shapes.append(dict(type="line", xref=xd, yref=yd, x0=0.118, x1=0.165, y0=0.851, y1=0.851,
                       line=dict(color="#222222", width=1, dash="3px,2px"), layer="above"))
    shapes.append(dict(type="line", xref=xd, yref=yd, x0=0.524, x1=0.57, y0=0.851, y1=0.851,
                       line=dict(color="#0000ff", width=1.1), layer="above"))
    shapes.append(dict(type="line", xref=xd, yref=yd, x0=0.524, x1=0.57, y0=0.766, y1=0.766,
                       line=dict(color="#ff0000", width=1.1), layer="above"))
    lf = dict(family=FONT, size=7, color="black")
    annos.append(dict(text=f"Pearson correlation (R = {rval})", xref=xd, yref=yd, x=0.183, y=0.851,
                      xanchor="left", yanchor="middle", showarrow=False, font=lf))
    annos.append(dict(text="PEDOT:PSS/PVA fabric dry electrode", xref=xd, yref=yd, x=0.588, y=0.851,
                      xanchor="left", yanchor="middle", showarrow=False, font=lf))
    annos.append(dict(text="Ag/AgCl wet electrode", xref=xd, yref=yd, x=0.588, y=0.766,
                      xanchor="left", yanchor="middle", showarrow=False, font=lf))

# table borders
TL = dict(color="black", width=1.5)
shapes.append(dict(type="rect", xref="paper", yref="paper", x0=px(4), x1=px(780),
                   y0=py(1130), y1=py(5), line=dict(color="black", width=2), layer="above"))
shapes.append(dict(type="line", xref="paper", yref="paper", x0=px(391), x1=px(391),
                   y0=py(1130), y1=py(5), line=TL, layer="above"))
for yy in TABLE_H:
    shapes.append(dict(type="line", xref="paper", yref="paper", x0=px(4), x1=px(780),
                       y0=py(yy), y1=py(yy), line=TL, layer="above"))

for lab, cx in zip(PANEL_LABELS, [197, 586]):
    annos.append(dict(text=f"(<b>{lab}</b>)", xref="paper", yref="paper", x=px(cx), y=py(1115),
                      xanchor="center", yanchor="middle", showarrow=False,
                      font=dict(family=FONT, size=16, color="black")))

fig.update_layout(
    width=W, height=H, margin=dict(l=0, r=0, t=0, b=0),
    paper_bgcolor="white", plot_bgcolor="white", showlegend=False,
    font=dict(family=FONT, color="black"),
    shapes=shapes, annotations=annos, **layout,
)

fig.write_html("out.html")
